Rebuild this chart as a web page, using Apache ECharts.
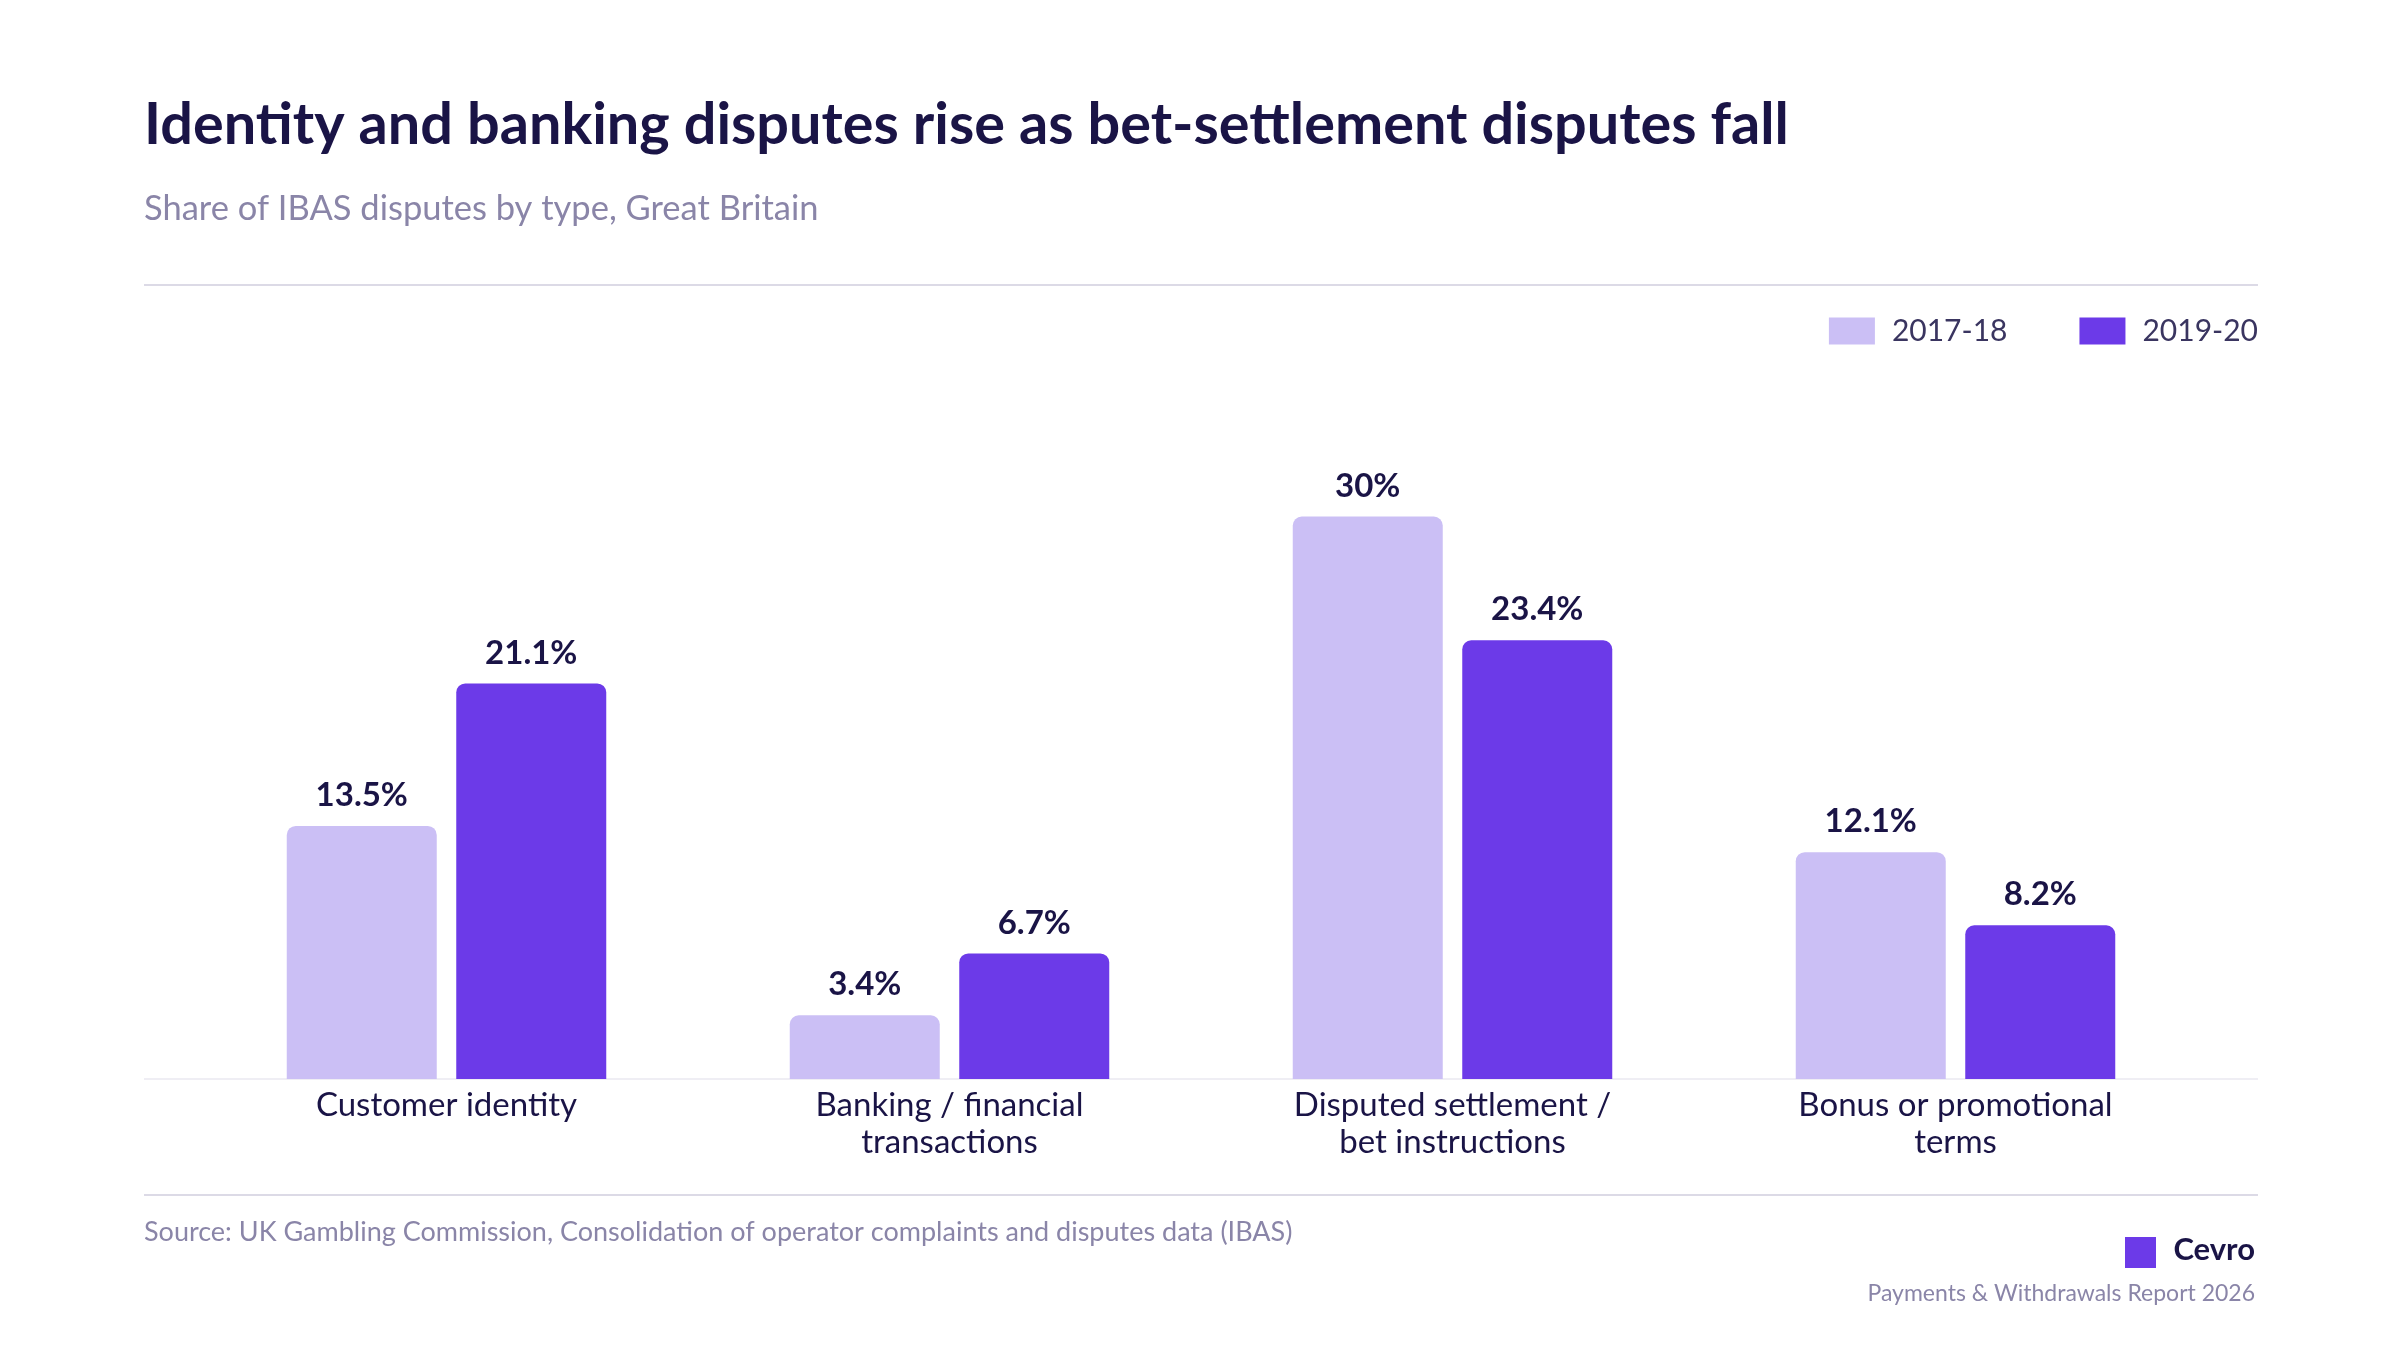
<!DOCTYPE html>
<html lang="en">
<head>
<meta charset="UTF-8">
<title>IBAS disputes</title>
<script src="https://cdn.jsdelivr.net/npm/echarts@6/dist/echarts.min.js"></script>
<style>html,body{margin:0;background:#fff}</style>
</head>
<body>
<div id="main" style="width:2400px;height:1350px"></div>
<script>
var categories = ['Customer identity', 'Banking / financial\ntransactions', 'Disputed settlement /\nbet instructions', 'Bonus or promotional\nterms'];
var series1718 = [13.5, 3.4, 30, 12.1];
var series1920 = [21.1, 6.7, 23.4, 8.2];

var chart = echarts.init(document.getElementById('main'));
var ink = '#1a1446', muted = '#8a85a8', font = 'Lato';
var lbl = {
  show: true, position: 'top', distance: 14,
  formatter: function (p) { return p.value + '%'; },
  color: ink, fontFamily: font, fontWeight: 'bold', fontSize: 33
};
chart.setOption({
  textStyle: { fontFamily: font },
  title: [
    { text: 'Identity and banking disputes rise as bet-settlement disputes fall', left: 144, top: 96, padding: 0,
      textStyle: { color: ink, fontSize: 57.6, fontWeight: 'bold', fontFamily: font } },
    { text: 'Share of IBAS disputes by type, Great Britain', left: 144, top: 191, padding: 0,
      textStyle: { color: muted, fontSize: 34.5, fontWeight: 'normal', fontFamily: font } }
  ],
  legend: {
    right: 142, top: 316, itemWidth: 46, itemHeight: 27, itemGap: 72, padding: 0,
    icon: 'rect',
    textStyle: { color: '#3a3560', fontSize: 30, fontFamily: font, padding: [0, 0, 0, 12] },
    data: ['2017-18', '2019-20']
  },
  grid: { left: 195, right: 193, top: 479, bottom: 271 },
  xAxis: {
    type: 'category', data: categories,
    axisLine: { show: false }, axisTick: { show: false },
    axisLabel: { color: ink, fontSize: 33, lineHeight: 37, margin: 8, fontFamily: font }
  },
  yAxis: { type: 'value', min: 0, max: 32, show: false, splitLine: { show: false } },
  series: [
    { name: '2017-18', type: 'bar', data: series1718, barWidth: 150, barGap: '13%',
      itemStyle: { color: '#cbbff5', borderRadius: [9, 9, 0, 0] }, label: lbl },
    { name: '2019-20', type: 'bar', data: series1920, barWidth: 150,
      itemStyle: { color: '#6c3ae8', borderRadius: [9, 9, 0, 0] }, label: lbl }
  ],
  graphic: [
    { type: 'line', shape: { x1: 144, y1: 285, x2: 2258, y2: 285 }, style: { stroke: '#dcdae6', lineWidth: 2 } },
    { type: 'line', shape: { x1: 144, y1: 1079, x2: 2258, y2: 1079 }, style: { stroke: '#efeef4', lineWidth: 2 }, z: -1 },
    { type: 'line', shape: { x1: 144, y1: 1195, x2: 2258, y2: 1195 }, style: { stroke: '#dcdae6', lineWidth: 2 } },
    { type: 'text', left: 144, top: 1219,
      style: { text: 'Source: UK Gambling Commission, Consolidation of operator complaints and disputes data (IBAS)', fill: muted, fontSize: 27, fontFamily: font } },
    { type: 'rect', shape: { x: 2125, y: 1237, width: 31, height: 31 }, style: { fill: '#6c3ae8' } },
    { type: 'text', right: 145, top: 1234,
      style: { text: 'Cevro', fill: ink, fontSize: 31, fontWeight: 'bold', fontFamily: font } },
    { type: 'text', right: 145, top: 1282,
      style: { text: 'Payments & Withdrawals Report 2026', fill: muted, fontSize: 23, fontFamily: font } }
  ]
});
</script>
</body>
</html>
